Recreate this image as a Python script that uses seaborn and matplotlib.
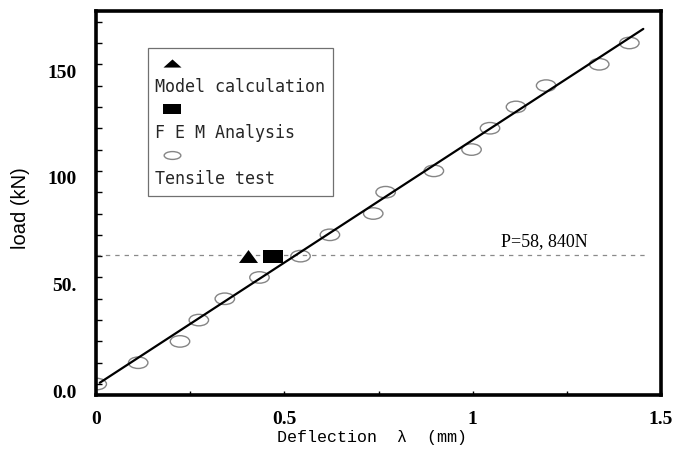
import numpy as np
import matplotlib
matplotlib.use("Agg")
import matplotlib.pyplot as plt
import matplotlib.transforms as mtransforms
from matplotlib.path import Path
from matplotlib.lines import Line2D
from matplotlib.ticker import MultipleLocator, FixedLocator, FixedFormatter
import seaborn as sns

# ---- data ----
test_x = [0.002, 0.112, 0.223, 0.273, 0.342, 0.434, 0.543, 0.621, 0.736,
          0.769, 0.897, 0.997, 1.046, 1.115, 1.195, 1.336, 1.416]
test_y = [0, 10, 20, 30, 40, 50, 60, 70, 80, 90, 100, 110, 120, 130, 140, 150, 160]

model_x = [0.404]
model_y = [60.0]

fem_x = [0.471]
fem_y = [60.0]

fit_x = [0.01, 1.453]
fit_y = [0.6, 166.6]

p_line_x = [0.0, 1.465]
p_line_y = [60.5, 60.5]
p_label = "P=58, 840N"

xtick_vals = [0, 0.5, 1, 1.5]
xtick_labels = ["0", "0.5", "1", "1.5"]
ytick_vals = [0, 50, 100, 150]
ytick_labels = ["0.0", "50.", "100", "150"]

legend_labels = ["Model calculation", "F E M Analysis", "Tensile test"]

# ---- style ----
sns.set_theme(style="white")
plt.rcParams["font.family"] = ["DejaVu Sans"]

fig = plt.figure(figsize=(6.91, 4.54), dpi=100)
ax = fig.add_axes([96 / 691, 1 - 394.7 / 454, (661 - 96) / 691, (394.7 - 11) / 454])

# custom marker shapes
tri_big = Path([(-1, -0.68), (1, -0.68), (0, 0.68), (-1, -0.68)],
               [Path.MOVETO, Path.LINETO, Path.LINETO, Path.CLOSEPOLY])
rect_big = Path([(-1, -0.65), (1, -0.65), (1, 0.65), (-1, 0.65), (-1, -0.65)],
                [Path.MOVETO, Path.LINETO, Path.LINETO, Path.LINETO, Path.CLOSEPOLY])
ell_big = Path.unit_circle().transformed(mtransforms.Affine2D().scale(1, 0.59))

tri_small = Path([(-1, -0.45), (1, -0.45), (0, 0.45), (-1, -0.45)],
                 [Path.MOVETO, Path.LINETO, Path.LINETO, Path.CLOSEPOLY])
rect_small = Path([(-1, -0.5), (1, -0.5), (1, 0.5), (-1, 0.5), (-1, -0.5)],
                  [Path.MOVETO, Path.LINETO, Path.LINETO, Path.LINETO, Path.CLOSEPOLY])
ell_small = Path.unit_circle().transformed(mtransforms.Affine2D().scale(1, 0.47))

gray = "#858585"

# dashed reference line
sns.lineplot(x=p_line_x, y=p_line_y, ax=ax, color="#8a8a8a", lw=0.9,
             linestyle=(0, (3.5, 4)), zorder=1)

# fitted line
sns.lineplot(x=fit_x, y=fit_y, ax=ax, color="black", lw=1.6, zorder=3)

# tensile test ellipses
sns.scatterplot(x=test_x, y=test_y, ax=ax, marker=ell_big, s=14 ** 2,
                facecolor="none", edgecolor=gray, linewidth=1.0, zorder=2)

# model calculation & FEM
sns.scatterplot(x=model_x, y=model_y, ax=ax, marker=tri_big, s=13.7 ** 2,
                color="black", linewidth=0, zorder=4)
sns.scatterplot(x=fem_x, y=fem_y, ax=ax, marker=rect_big, s=14.4 ** 2,
                color="black", linewidth=0, zorder=4)

ax.text(1.075, 66.8, p_label, family="Liberation Serif", fontsize=13,
        ha="left", va="center", color="black")

# limits
ax.set_xlim(0, 1.5)
ax.set_ylim(-5, 175)

# ticks
ax.xaxis.set_major_locator(FixedLocator(xtick_vals))
ax.xaxis.set_major_formatter(FixedFormatter(xtick_labels))
ax.xaxis.set_minor_locator(MultipleLocator(0.25))
ax.yaxis.set_major_locator(FixedLocator(ytick_vals))
ax.yaxis.set_major_formatter(FixedFormatter(ytick_labels))
ax.yaxis.set_minor_locator(MultipleLocator(10))

ax.tick_params(axis="x", which="both", direction="in", length=3, width=1,
               color="black", pad=12, bottom=True, top=False)
ax.tick_params(axis="y", which="both", direction="in", length=4, width=1,
               color="black", pad=14, left=True, right=False)

for lab in ax.get_xticklabels() + ax.get_yticklabels():
    lab.set_fontfamily("Liberation Serif")
    lab.set_fontweight("bold")
    lab.set_fontsize(14)
    lab.set_color("black")

offset = mtransforms.ScaledTranslation(0, -7 / 100, fig.dpi_scale_trans)
for lab in ax.get_yticklabels():
    lab.set_transform(lab.get_transform() + offset)

for sp in ax.spines.values():
    sp.set_visible(True)
    sp.set_color("black")
    sp.set_linewidth(2.6)

ax.set_xlabel("Deflection  \u03bb  (mm)", family="Liberation Mono", fontsize=12,
              color="black")
ax.xaxis.set_label_coords(0.489, -0.092)
ax.set_ylabel("load (kN)", family="Liberation Sans", fontsize=14.5, color="black")
ax.yaxis.set_label_coords(-0.117, 0.487)

# legend: marker row above each label row
blank = Line2D([], [], linestyle="none", marker=None)
h_tri = Line2D([], [], linestyle="none", marker=tri_small, markersize=13,
               markerfacecolor="black", markeredgewidth=0)
h_rect = Line2D([], [], linestyle="none", marker=rect_small, markersize=13,
                markerfacecolor="black", markeredgewidth=0)
h_ell = Line2D([], [], linestyle="none", marker=ell_small, markersize=12,
               markerfacecolor="none", markeredgecolor=gray, markeredgewidth=1.0)
handles = [h_tri, blank, h_rect, blank, h_ell, blank]
labels = ["", legend_labels[0], "", legend_labels[1], "", legend_labels[2]]
leg = ax.legend(handles, labels, loc="upper left",
                bbox_to_anchor=((147.7 - 96) / 565, (394.7 - 47.7) / 383.7),
                borderaxespad=0, frameon=True, fancybox=False, framealpha=1,
                edgecolor="#707070", handlelength=2.0, handletextpad=-2.0,
                labelspacing=0.3, borderpad=0.45,
                prop={"family": "DejaVu Sans Mono", "size": 12})
leg.get_frame().set_linewidth(0.9)

fig.savefig("out.png", dpi=100)
